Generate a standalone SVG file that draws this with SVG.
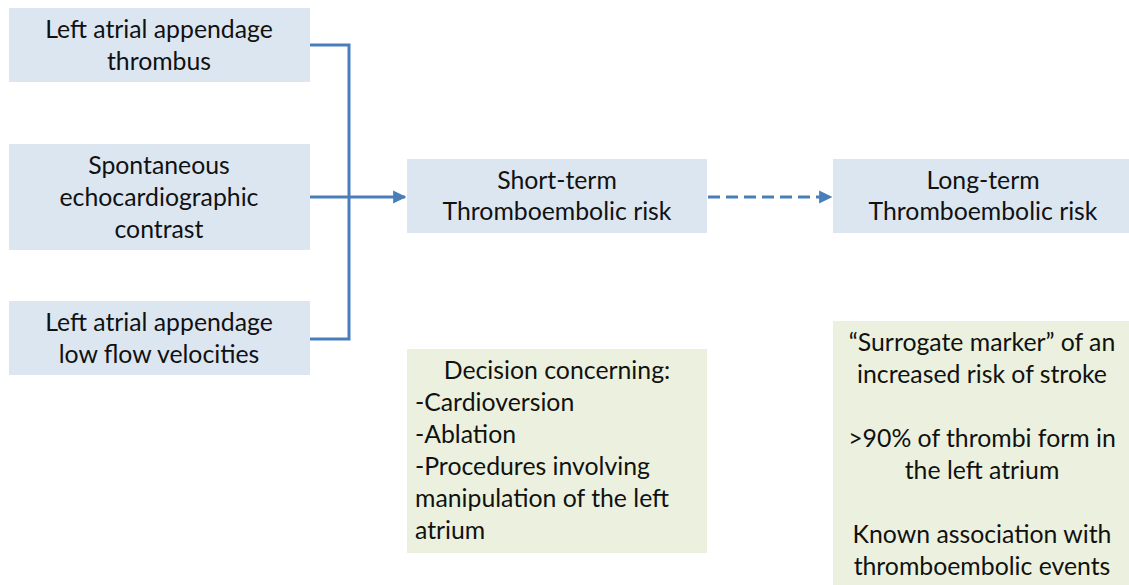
<svg xmlns="http://www.w3.org/2000/svg" width="1129" height="585" viewBox="0 0 1129 585">
  <defs>
    <style>
      .blue { fill: #dce6f1; }
      .green { fill: #ebf1de; }
      text { font-family: Lato, "Liberation Sans", Arial, sans-serif; font-size: 24.8px; fill: #111; }
      .c { text-anchor: middle; }
      .conn { fill: none; stroke: #4a7ebb; stroke-width: 3; }
      .dash { stroke-dasharray: 12 6; }
    </style>
    <marker id="arrow" viewBox="0 0 10 10" refX="9" refY="5" markerWidth="4.4" markerHeight="4.4" orient="auto" markerUnits="strokeWidth">
      <path d="M0,0 L10,5 L0,10 Z" fill="#4a7ebb"/>
    </marker>
  </defs>
  <rect width="1129" height="585" fill="#fff"/>

  <g id="connectors">
    <path class="conn" d="M310,45 H349 V339 H310"/>
    <path class="conn" d="M310,197 H405" marker-end="url(#arrow)"/>
    <path class="conn dash" d="M708,197 H831" marker-end="url(#arrow)"/>
  </g>

  <g id="laa-thrombus">
    <rect class="blue" x="9" y="8" width="301" height="74"/>
    <text class="c" x="159" y="38">Left atrial appendage</text>
    <text class="c" x="159" y="70">thrombus</text>
  </g>

  <g id="sec">
    <rect class="blue" x="9" y="144" width="301" height="106"/>
    <text class="c" x="159" y="174">Spontaneous</text>
    <text class="c" x="159" y="206">echocardiographic</text>
    <text class="c" x="159" y="238">contrast</text>
  </g>

  <g id="laa-low-flow">
    <rect class="blue" x="9" y="301" width="301" height="74"/>
    <text class="c" x="159" y="331">Left atrial appendage</text>
    <text class="c" x="159" y="363">low flow velocities</text>
  </g>

  <g id="short-term">
    <rect class="blue" x="407" y="159" width="300" height="74"/>
    <text class="c" x="557" y="189">Short-term</text>
    <text class="c" x="557" y="220">Thromboembolic risk</text>
  </g>

  <g id="long-term">
    <rect class="blue" x="833" y="159" width="296" height="74"/>
    <text class="c" x="983" y="189">Long-term</text>
    <text class="c" x="983" y="220">Thromboembolic risk</text>
  </g>

  <g id="decision">
    <rect class="green" x="407" y="349" width="300" height="204"/>
    <text class="c" x="557" y="379">Decision concerning:</text>
    <text x="415" y="411">-Cardioversion</text>
    <text x="415" y="443">-Ablation</text>
    <text x="415" y="475">-Procedures involving</text>
    <text x="415" y="507">manipulation of the left</text>
    <text x="415" y="539">atrium</text>
  </g>

  <g id="surrogate">
    <rect class="green" x="833" y="321" width="296" height="264"/>
    <text class="c" x="982" y="351">“Surrogate marker” of an</text>
    <text class="c" x="982" y="383">increased risk of stroke</text>
    <text class="c" x="982" y="447">&gt;90% of thrombi form in</text>
    <text class="c" x="982" y="479">the left atrium</text>
    <text class="c" x="982" y="543">Known association with</text>
    <text class="c" x="982" y="575">thromboembolic events</text>
  </g>
</svg>
